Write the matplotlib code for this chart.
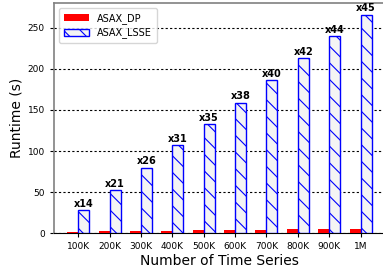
import matplotlib
matplotlib.use("Agg")
import matplotlib.pyplot as plt
import numpy as np

sizes = ['100K', '200K', '300K', '400K', '500K', '600K', '700K', '800K', '900K', '1M']
asax_dp = [2.0, 2.5, 3.1, 3.45, 3.8, 4.2, 4.65, 5.07, 5.44, 5.9]
asax_lsse = [28, 53, 80, 107, 133, 159, 186, 213, 239.5, 266]
speedups = ['x14', 'x21', 'x26', 'x31', 'x35', 'x38', 'x40', 'x42', 'x44', 'x45']

plt.rcParams['hatch.linewidth'] = 0.8
plt.rcParams['hatch.color'] = 'blue'

fig = plt.figure(figsize=(3.83, 2.72), dpi=100)
ax = fig.add_axes([0.141, 0.142, 0.862, 0.847])

x = np.arange(len(sizes))
w = 0.35
ax.bar(x - w / 2, asax_dp, w, color='red', label='ASAX_DP', zorder=3)
ax.bar(x + w / 2, asax_lsse, w, facecolor='#f4f4f4', edgecolor='blue',
       hatch='\\\\', linewidth=1.0, label='ASAX_LSSE', zorder=3)

# speedup labels on top of the LSSE bars
for xi, h, s in zip(x, asax_lsse, speedups):
    ax.text(xi + w / 2, h + 1.5, s, ha='center', va='bottom',
            fontsize=7, fontweight='bold')

ax.set_xlim(-0.77, 9.75)
ax.set_ylim(0, 280)
ax.set_yticks([0, 50, 100, 150, 200, 250])
ax.set_xticks(x)
ax.set_xticklabels(sizes)
ax.tick_params(labelsize=6.5, length=3, width=0.8)
ax.yaxis.grid(True, linestyle=(0, (2, 2)), color='black', linewidth=0.8, zorder=0)
ax.set_axisbelow(True)

for sp in ['left', 'top', 'right']:
    ax.spines[sp].set_color('gray')
    ax.spines[sp].set_linewidth(1.2)
ax.spines['bottom'].set_color('black')

ax.set_xlabel('Number of Time Series', fontsize=10, labelpad=2)
ax.set_ylabel('Runtime (s)', fontsize=10, labelpad=3)
ax.legend(loc='upper left', fontsize=7, handlelength=2.6, borderpad=0.5,
          labelspacing=0.4, handletextpad=0.8)

fig.savefig('out.png', dpi=100)
